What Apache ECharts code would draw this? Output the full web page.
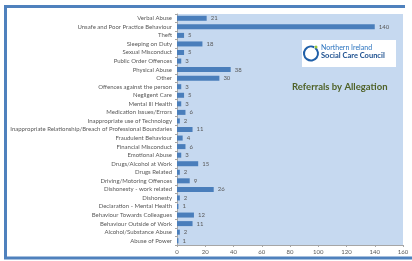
<!DOCTYPE html>
<html>
<head>
<meta charset="utf-8">
<script src="https://cdn.jsdelivr.net/npm/echarts@6/dist/echarts.min.js"></script>
<style>
  html, body { margin: 0; padding: 0; background: #ffffff; }
  #chart { width: 412px; height: 261px; }
</style>
</head>
<body>
<div id="chart"></div>
<script>
// allegation categories, top to bottom
const categories = [
  "Verbal Abuse", "Unsafe and Poor Practice Behaviour", "Theft", "Sleeping on Duty",
  "Sexual Misconduct", "Public Order Offences", "Physical Abuse", "Other",
  "Offences against the person", "Negligent Care", "Mental Ill Health",
  "Medication Issues/Errors", "Inappropriate use of Technology",
  "Inappropriate Relationship/Breach of Professional Boundaries",
  "Fraudulent Behaviour", "Financial Misconduct", "Emotional Abuse",
  "Drugs/Alcohol at Work", "Drugs Related", "Driving/Motoring Offences",
  "Dishonesty - work related", "Dishonesty", "Declaration - Mental Health",
  "Behaviour Towards Colleagues", "Behaviour Outside of Work",
  "Alcohol/Substance Abuse", "Abuse of Power"
];
const referrals = [21, 140, 5, 18, 5, 3, 38, 30, 3, 5, 3, 6, 2, 11, 4, 6, 3, 15, 2, 9, 26, 2, 1, 12, 11, 2, 1];
const xTicks = [0, 20, 40, 60, 80, 100, 120, 140, 160];

const font = "Lato, 'Open Sans', sans-serif";
const chart = echarts.init(document.getElementById("chart"));
chart.setOption({
  backgroundColor: "#ffffff",
  animation: false,
  grid: {
    left: 177, right: 9, top: 14, bottom: 16,
    show: true, backgroundColor: "#c6d9f0", borderWidth: 0
  },
  xAxis: {
    type: "value",
    min: xTicks[0], max: xTicks[xTicks.length - 1], interval: 20,
    axisLine: { show: true, lineStyle: { color: "#a6a6a6", width: 1 } },
    axisTick: { show: true, length: 2, lineStyle: { color: "#a6a6a6" } },
    splitLine: { show: false },
    axisLabel: { fontSize: 6, color: "#595959", fontFamily: font, margin: 4 }
  },
  yAxis: {
    type: "category",
    data: categories,
    inverse: true,
    axisLine: { show: true, lineStyle: { color: "#a6a6a6", width: 1 } },
    axisTick: { show: true, length: 2, lineStyle: { color: "#a6a6a6" } },
    axisLabel: { fontSize: 6, color: "#595959", fontFamily: font, margin: 5, interval: 0 }
  },
  series: [{
    type: "bar",
    data: referrals,
    barWidth: 5,
    itemStyle: { color: "#4a7ebb" },
    label: {
      show: true, position: "right", distance: 4,
      fontSize: 6, color: "#595959", fontFamily: font
    }
  }],
  graphic: [
    // frame
    {
      type: "polyline", silent: true,
      shape: { points: [[405, 6.5], [5.5, 6.5], [5.5, 258], [412, 258]] },
      style: { stroke: "#4f81bd", lineWidth: 3, fill: null }
    },
    // logo box
    {
      type: "rect", silent: true,
      shape: { x: 302, y: 40, width: 94, height: 27 },
      style: { fill: "#ffffff" }
    },
    {
      type: "arc", silent: true,
      shape: { cx: 311, cy: 53.5, r: 7, startAngle: -Math.PI * 0.3, endAngle: Math.PI * 1.65 },
      style: { stroke: "#1f5fa8", lineWidth: 2, fill: null }
    },
    {
      type: "circle", silent: true,
      shape: { cx: 316, cy: 47, r: 1.5 },
      style: { fill: "#9bc93c" }
    },
    {
      type: "text", silent: true, left: 321, top: 44,
      style: { text: "Northern Ireland", font: "7px " + font, fill: "#2a73bf" }
    },
    {
      type: "text", silent: true, left: 321, top: 52,
      style: { text: "Social Care Council", font: "bold 7.5px " + font, fill: "#1b4f8f" }
    },
    // title
    {
      type: "text", silent: true, left: 292, top: 82,
      style: { text: "Referrals by Allegation", font: "bold 9.5px " + font, fill: "#4f6228" }
    }
  ]
});
</script>
</body>
</html>
